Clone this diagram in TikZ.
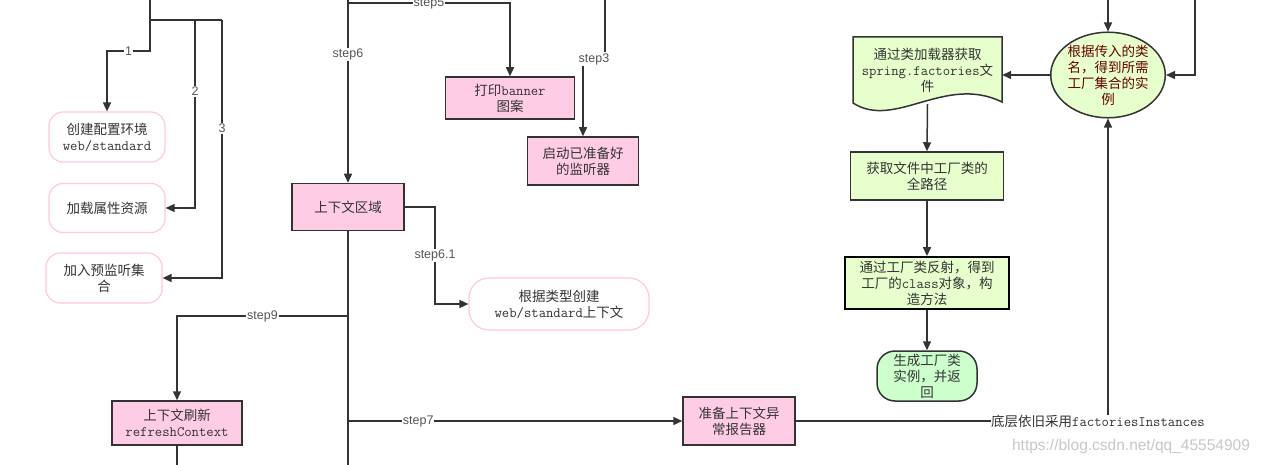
\documentclass[tikz,border=0pt]{standalone}
\usepackage{fontspec}
\setmainfont{Noto Sans CJK SC}
\newfontfamily\lab{Liberation Sans}
\usetikzlibrary{arrows.meta,shapes.geometric}
\definecolor{pinkfill}{HTML}{FFCCE6}
\definecolor{softpink}{HTML}{FFC8DE}
\definecolor{greenfill}{HTML}{E6FFCC}
\definecolor{genfill}{HTML}{CCFFCC}
\definecolor{ink}{HTML}{333333}
\definecolor{maroon}{HTML}{660000}
\definecolor{labgray}{HTML}{555555}
\newcommand{\mono}{\ttfamily\fontsize{14.3}{16}\selectfont}
\tikzset{
  every node/.style={font=\fontsize{13.5}{16}\selectfont, text=ink, align=center, inner sep=0pt},
  pinkbox/.style={draw=ink, fill=pinkfill, line width=1.5pt},
  softbox/.style={draw=softpink, fill=white, line width=1.2pt, rounded corners=14pt},
  greenbox/.style={draw=ink, fill=greenfill, line width=1.5pt},
  conn/.style={draw=ink, line width=1.5pt},
  arr/.style={conn, -{Triangle[length=9pt,width=8pt]}},
  lbl/.style={font=\lab\fontsize{12.5}{13}\selectfont, text=labgray, fill=white, inner sep=1pt},
}
\begin{document}
\begin{tikzpicture}[x=1pt,y=-1pt]
\useasboundingbox (0,0) rectangle (1262,465);
\fill[white] (0,0) rectangle (1262,465);

% ---- left group
\node[softbox, minimum width=116, minimum height=50] (c1) at (107,137) {创建配置环境\\{\mono web/standard}};
\node[softbox, minimum width=116, minimum height=49] (c2) at (107,208) {加载属性资源};
\node[softbox, minimum width=116, minimum height=50] (c3) at (104,278) {加入预监听集\\合};
\coordinate (top1) at (150,0);
\draw[arr] (top1) -- (150,51) -| node[lbl,pos=0.25]{1} (c1.north);
\draw[conn] (150,20) -- (222,20);
\draw[arr] (195,20) |- node[lbl,pos=0.19]{2} (c2.east);
\draw[arr] (222,20) |- node[lbl,pos=0.21]{3} (c3.east);

% ---- middle group
\node[pinkbox, minimum width=129, minimum height=42] (banner) at (510,98) {打印{\mono banner}\\图案};
\node[pinkbox, minimum width=111, minimum height=48] (listen) at (583,161) {启动已准备好\\的监听器};
\node[pinkbox, minimum width=112, minimum height=47] (ctx) at (348,207) {上下文区域};
\node[softbox, rounded corners=20pt, minimum width=180, minimum height=52] (create) at (559,304) {根据类型创建\\{\mono web/standard}上下文};
\node[pinkbox, minimum width=130, minimum height=44] (refresh) at (177,423) {上下文刷新\\{\mono refreshContext}};
\node[pinkbox, minimum width=112, minimum height=48] (report) at (739,421) {准备上下文异\\常报告器};

\coordinate (top2) at (348,0);
\draw[arr] (top2) -- node[lbl,pos=0.3]{step6} (ctx.north);
\draw[arr] (348,3) -| node[lbl,pos=0.25]{step5} (banner.north);
\coordinate (top3) at (605,0);
\draw[arr] (top3) -- (605,59) -| (listen.north);
\node[lbl] (s3) at (594,59) {step3};
\draw[arr] (ctx.east) -- (435,207) |- node[lbl,pos=0.25]{step6.1} (create.west);
\coordinate (bot1) at (348,465);
\draw[conn] (ctx.south) -- (bot1);
\draw[arr] (348,316) -| node[lbl,pos=0.25]{step9} (refresh.north);
\draw[arr] (348,421) -- node[lbl,pos=0.21]{step7} (report.west);
\coordinate (bot2) at (177,465);
\draw[conn] (refresh.south) -- (bot2);

% ---- right group
\node[ellipse, draw=ink, fill=greenfill, line width=1.5pt, minimum width=113, minimum height=83, text=maroon] (ell) at (1108,75) {根据传入的类\\名，得到所需\\工厂集合的实\\例};
\filldraw[draw=ink, fill=greenfill, line width=1.5pt] (853,103) -- (853,37) -- (1002,37) -- (1002,102) .. controls (945,74) and (895,130) .. (853,103) -- cycle;
\node[minimum width=149, minimum height=67] (doc) at (927.5,70.5) {通过类加载器获取\\{\mono spring.factories}文\\件};
\node[greenbox, minimum width=153, minimum height=48] (path) at (927,176) {获取文件中工厂类的\\全路径};
\node[greenbox, draw=black, line width=1.8pt, minimum width=164, minimum height=52] (reflect) at (927,283) {通过工厂类反射，得到\\工厂的{\mono class}对象，构\\造方法};
\node[draw=ink, fill=genfill, line width=1.5pt, rounded corners=18pt, minimum width=100, minimum height=50] (gen) at (927,376) {生成工厂类\\实例，并返\\回};

\coordinate (top4) at (1108,0);
\coordinate (top5) at (1195,0);
\draw[arr] (top4) -- (ell.north);
\draw[arr] (top5) |- (ell.east);
\draw[arr] (ell.west) -- (ell.west -| doc.east);
\draw[arr] (doc.south) -- (path.north);
\draw[arr] (path.south) -- (reflect.north);
\draw[arr] (reflect.south) -- (gen.north);

\node[anchor=west] (fi) at (991,421) {底层依旧采用{\mono factoriesInstances}};
\draw[conn] (report.east) -- (fi.west);
\draw[arr] (fi.north -| ell.south) -- (ell.south);

\node[font=\lab\fontsize{15.5}{16}\selectfont, text=black!22] (wm) at (1131,446) {https://blog.csdn.net/qq\_45554909};
\end{tikzpicture}
\end{document}
